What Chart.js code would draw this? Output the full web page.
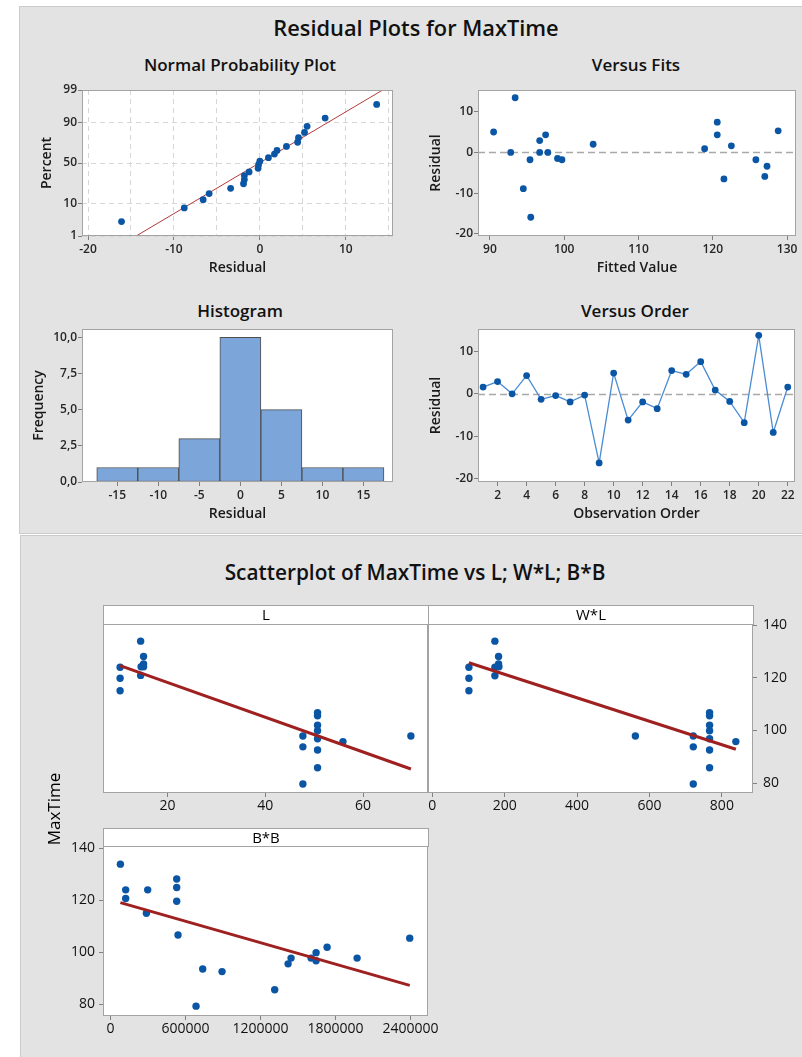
<!DOCTYPE html>
<html>
<head>
<meta charset="utf-8">
<script src="https://cdn.jsdelivr.net/npm/chart.js@4.4.1/dist/chart.umd.min.js"></script>
<style>
  body { margin: 0; width: 802px; height: 1057px; overflow: hidden; background: #fff; position: relative; font-family: 'Open Sans', sans-serif; }
  .panel { position: absolute; background: #e3e3e3; box-sizing: border-box; border: 1px solid #cbcbcb; }
  .t { position: absolute; width: 500px; text-align: center; white-space: nowrap; color: #111; font-weight: 600; }
  .strip { position: absolute; box-sizing: border-box; background: #fff; border: 1px solid #a3a3a3; text-align: center; font-size: 15px; color: #000; }
  canvas { position: absolute; }
</style>
</head>
<body>
<div class="panel" style="left:19px;top:6px;width:800px;height:528px"></div>
<div class="panel" style="left:20px;top:535px;width:800px;height:540px"></div>

<div class="t" style="left:166px;top:13px;font-size:21.8px;line-height:30px">Residual Plots for MaxTime</div>
<div class="t" style="left:-10px;top:53px;font-size:17px;line-height:24px">Normal Probability Plot</div>
<div class="t" style="left:386px;top:53px;font-size:17px;line-height:24px">Versus Fits</div>
<div class="t" style="left:-10px;top:299px;font-size:17px;line-height:24px">Histogram</div>
<div class="t" style="left:385px;top:299px;font-size:17px;line-height:24px">Versus Order</div>
<div class="t" style="left:165px;top:557px;font-size:20.8px;line-height:30px">Scatterplot of MaxTime vs L; W*L; B*B</div>

<canvas id="prob" width="380" height="205" style="left:20px;top:80px"></canvas>
<canvas id="fits" width="392" height="205" style="left:410px;top:80px"></canvas>
<canvas id="hist" width="380" height="205" style="left:20px;top:320px"></canvas>
<canvas id="order" width="392" height="205" style="left:410px;top:320px"></canvas>
<canvas id="panelL" width="345" height="220" style="left:90px;top:600px"></canvas>
<canvas id="panelWL" width="382" height="220" style="left:420px;top:600px"></canvas>
<canvas id="panelBB" width="420" height="237" style="left:20px;top:820px"></canvas>

<div class="strip" style="left:103px;top:605px;width:326px;height:20px;line-height:17px">L</div>
<div class="strip" style="left:428px;top:605px;width:326px;height:20px;line-height:17px">W*L</div>
<div class="strip" style="left:103px;top:828px;width:326px;height:19px;line-height:16px">B*B</div>
<div style="position:absolute;left:4px;top:797px;width:100px;height:24px;line-height:24px;text-align:center;font-size:17px;color:#000;transform:rotate(-90deg)">MaxTime</div>

<script>
// normal probability plot (residuals sorted, percent = plotting position)
const pctTicks = [1, 10, 50, 90, 99];
const probResidual = [-16.1, -8.8, -6.6, -5.9, -3.4, -1.9, -1.8, -1.8, -1.25, -0.2, -0.15, 0.0,
    1.0, 1.7, 2.0, 3.1, 4.4, 4.5, 5.2, 5.5, 7.6, 13.6];
const probPercent = [3.1, 7.6, 12.1, 16.5, 21.0, 25.4, 29.9, 34.4, 38.8, 43.3, 47.8, 52.2,
    56.7, 61.2, 65.6, 70.1, 74.6, 79.0, 83.5, 87.9, 92.4, 96.9];
const probLineX = [-14.4, 14.3];
const probLinePct = [1, 99];

// versus fits
const fitValue = [90.5, 92.8, 93.4, 94.5, 95.4, 95.5, 96.7, 96.7, 97.5, 97.8, 99.1, 99.7,
    103.9, 118.9, 120.6, 120.6, 121.5, 122.5, 125.8, 127.0, 127.3, 128.8];
const fitResidual = [5.0, 0.0, 13.4, -8.9, -1.8, -15.9, 2.9, 0.0, 4.3, 0.0, -1.5, -1.8,
    2.0, 0.9, 7.4, 4.3, -6.5, 1.6, -1.8, -5.9, -3.4, 5.3];

// histogram
const histCenter = [-15, -10, -5, 0, 5, 10, 15];
const histCount = [1, 1, 3, 10, 5, 1, 1];

// versus order
const orderIndex = [1, 2, 3, 4, 5, 6, 7, 8, 9, 10, 11, 12, 13, 14, 15, 16, 17, 18, 19, 20, 21, 22];
const orderResidual = [1.6, 2.9, 0.0, 4.3, -1.3, -0.4, -1.9, -0.3, -16.3, 4.9, -6.2, -1.9,
    -3.5, 5.5, 4.6, 7.6, 0.9, -1.8, -6.8, 13.8, -9.1, 1.6];

// scatterplot panels
const lX = [10.3, 10.3, 10.3, 14.5, 15.1, 15.1, 14.6, 15.1, 14.5, 47.7, 47.7, 47.7,
    50.7, 50.7, 50.7, 50.7, 50.7, 50.7, 50.7, 55.9, 69.8];
const lY = [124.0, 119.8, 115.1, 133.9, 128.1, 125.2, 124.2, 124.2, 120.9, 97.9, 93.8, 79.7,
    106.8, 105.6, 102.0, 99.9, 96.9, 92.6, 85.9, 95.8, 97.9];
const lFitX = [10.3, 69.8];
const lFitY = [124.6, 85.4];

const wlX = [101, 101, 101, 172.8, 172.8, 172.8, 183, 183, 184, 561, 721, 721, 721,
    766, 766, 766, 766, 766, 766, 766, 838.6];
const wlY = [124.0, 119.8, 115.1, 133.9, 124.0, 120.8, 128.1, 125.2, 124.2, 97.9, 97.9, 93.8, 79.7,
    106.8, 105.6, 102.0, 99.9, 96.9, 92.6, 85.9, 95.8];
const wlFitX = [101, 838.6];
const wlFitY = [125.7, 92.9];

const bbX = [80000, 122400, 122400, 298400, 288000, 530400, 530400, 530400, 541000, 738400, 893000,
    685000, 1314000, 1421000, 1445000, 1605000, 1645000, 1645000, 1733000, 1973000, 2394000];
const bbY = [133.9, 124.0, 120.7, 124.0, 115.0, 128.2, 124.9, 119.6, 106.6, 93.5, 92.5,
    79.2, 85.5, 95.5, 97.7, 97.7, 99.8, 96.7, 101.9, 97.7, 105.4];
const bbFitX = [80000, 2394000];
const bbFitY = [119.1, 87.2];

const yTicksTime = [80, 100, 120, 140];

const BLUE = '#0b56a4';
const RED = '#9f2020';
const FRAME = '#a3a3a3';

Chart.defaults.font.family = "'Open Sans', sans-serif";

// inverse normal cdf (Acklam) -> for the probability axis
function normInv(p) {
    const a = [-3.969683028665376e+01, 2.209460984245205e+02, -2.759285104469687e+02, 1.383577518672690e+02, -3.066479806614716e+01, 2.506628277459239e+00];
    const b = [-5.447609879822406e+01, 1.615858368580409e+02, -1.556989798598866e+02, 6.680131188771972e+01, -1.328068155288572e+01];
    const c = [-7.784894002430293e-03, -3.223964580411365e-01, -2.400758277161838e+00, -2.549732539343734e+00, 4.374664141464968e+00, 2.938163982698783e+00];
    const d = [7.784695709041462e-03, 3.224671290700398e-01, 2.445134137142996e+00, 3.754408661907416e+00];
    const pl = 0.02425;
    let q, r;
    if (p < pl) {
        q = Math.sqrt(-2 * Math.log(p));
        return (((((c[0] * q + c[1]) * q + c[2]) * q + c[3]) * q + c[4]) * q + c[5]) / ((((d[0] * q + d[1]) * q + d[2]) * q + d[3]) * q + 1);
    }
    if (p > 1 - pl) {
        q = Math.sqrt(-2 * Math.log(1 - p));
        return -(((((c[0] * q + c[1]) * q + c[2]) * q + c[3]) * q + c[4]) * q + c[5]) / ((((d[0] * q + d[1]) * q + d[2]) * q + d[3]) * q + 1);
    }
    q = p - 0.5; r = q * q;
    return (((((a[0] * r + a[1]) * r + a[2]) * r + a[3]) * r + a[4]) * r + a[5]) * q / (((((b[0] * r + b[1]) * r + b[2]) * r + b[3]) * r + b[4]) * r + 1);
}
const z = pct => normInv(pct / 100);

// white plot area + grey frame
const framePlugin = {
    id: 'frame',
    beforeDraw(chart) {
        const a = chart.chartArea, ctx = chart.ctx;
        ctx.save();
        ctx.fillStyle = '#fff';
        ctx.fillRect(a.left, a.top, a.right - a.left, a.bottom - a.top);
        ctx.restore();
    },
    afterDraw(chart) {
        const a = chart.chartArea, ctx = chart.ctx;
        ctx.save();
        ctx.strokeStyle = FRAME;
        ctx.lineWidth = 1;
        ctx.strokeRect(Math.round(a.left) + 0.5, Math.round(a.top) + 0.5, Math.round(a.right - a.left) - 1, Math.round(a.bottom - a.top) - 1);
        ctx.restore();
    }
};

// dashed reference line at residual = 0
const zeroPlugin = {
    id: 'zeroLine',
    beforeDatasetsDraw(chart) {
        const a = chart.chartArea, ctx = chart.ctx;
        const y = Math.round(chart.scales.y.getPixelForValue(0)) + 0.5;
        ctx.save();
        ctx.strokeStyle = '#a9a9a9';
        ctx.lineWidth = 1.3;
        ctx.setLineDash([7, 4]);
        ctx.beginPath();
        ctx.moveTo(a.left, y);
        ctx.lineTo(a.right, y);
        ctx.stroke();
        ctx.restore();
    }
};

const topTick = { size: 12, weight: '600' };
const topTitle = { size: 14, weight: '600' };
const lowTick = { size: 14, weight: '400' };

function axis(o) {
    const horiz = o.pos === 'bottom';
    return {
        type: 'linear',
        position: o.pos,
        min: o.min,
        max: o.max,
        offset: false,
        display: true,
        afterBuildTicks: s => { s.ticks = o.ticks.map(v => ({ value: v })); },
        afterFit: s => {
            if (horiz) { s.height = o.size; s.paddingLeft = 0; s.paddingRight = 0; }
            else { s.width = o.size; s.paddingTop = 0; s.paddingBottom = 0; }
        },
        grid: {
            offset: false,
            drawOnChartArea: !!o.grid,
            drawTicks: o.drawTicks !== false,
            color: '#d6d6d6',
            tickLength: 4,
            tickColor: o.tickColor || '#808080',
            tickBorderDash: []
        },
        border: { display: false, dash: o.grid ? [5, 4] : [] },
        ticks: {
            display: o.labels !== false,
            color: o.color || '#262626',
            font: o.font || topTick,
            padding: o.pad !== undefined ? o.pad : 2,
            maxRotation: 0,
            autoSkip: false,
            callback: o.cb || (v => String(v))
        },
        title: o.title ? {
            display: true, text: o.title, color: '#1a1a1a', font: topTitle,
            padding: horiz ? { top: 0, bottom: o.tpad } : { top: o.tpad, bottom: 0 }
        } : { display: false }
    };
}

function baseOptions(pad, scales) {
    return {
        responsive: false,
        devicePixelRatio: 1,
        animation: false,
        events: [],
        layout: { padding: pad },
        plugins: { legend: { display: false }, tooltip: { enabled: false } },
        scales: scales
    };
}

const pts = (xs, ys) => xs.map((x, i) => ({ x: x, y: ys[i] }));
const dots = (data, r) => ({ data: data, pointRadius: r, pointBackgroundColor: BLUE, pointBorderWidth: 0, showLine: false });

// 1. Normal probability plot
new Chart(document.getElementById('prob'), {
    type: 'scatter',
    data: {
        datasets: [
            dots(probResidual.map((x, i) => ({ x: x, y: z(probPercent[i]) })), 3.4),
            { data: probLineX.map((x, i) => ({ x: x, y: z(probLinePct[i]) })), showLine: true,
              borderColor: '#b33a3a', borderWidth: 1, pointRadius: 0 }
        ]
    },
    options: baseOptions({ top: 10, right: 7, left: 0, bottom: 0 }, {
        x: axis({ pos: 'bottom', min: -20.7, max: 15.5, ticks: [-20, -15, -10, -5, 0, 5, 10, 15], size: 49,
                  grid: true, tpad: 8.6, title: 'Residual',
                  tickColor: c => (c.tick && c.tick.value % 10 === 0) ? '#808080' : 'rgba(0,0,0,0)',
                  cb: v => (v % 10 === 0 ? String(v) : '') }),
        y: axis({ pos: 'left', min: z(1), max: z(99), ticks: pctTicks.map(z), size: 62, grid: true,
                  tpad: 18.6, title: 'Percent', pad: 1, cb: (v, i) => String(pctTicks[i]) })
    }),
    plugins: [framePlugin]
});

// 2. Versus fits
new Chart(document.getElementById('fits'), {
    type: 'scatter',
    data: { datasets: [dots(pts(fitValue, fitResidual), 3.4)] },
    options: baseOptions({ top: 10, right: 6, left: 0, bottom: 0 }, {
        x: axis({ pos: 'bottom', min: 88.4, max: 131.2, ticks: [90, 100, 110, 120, 130], size: 49,
                  tpad: 8.6, title: 'Fitted Value' }),
        y: axis({ pos: 'left', min: -20.5, max: 15.3, ticks: [-20, -10, 0, 10], size: 68,
                  tpad: 17.6, title: 'Residual', pad: 1 })
    }),
    plugins: [framePlugin, zeroPlugin]
});

// 3. Histogram
new Chart(document.getElementById('hist'), {
    type: 'bar',
    data: {
        datasets: [{
            data: pts(histCenter, histCount),
            backgroundColor: '#7ca6da',
            borderColor: '#4e4e4e',
            borderWidth: 1,
            borderSkipped: false,
            barPercentage: 1,
            categoryPercentage: 1
        }]
    },
    options: baseOptions({ top: 9, right: 7, left: 0, bottom: 0 }, {
        x: axis({ pos: 'bottom', min: -19.3, max: 18.6, ticks: [-15, -10, -5, 0, 5, 10, 15], size: 43,
                  tpad: 2.6, title: 'Residual' }),
        y: axis({ pos: 'left', min: 0, max: 10.58, ticks: [0, 2.5, 5, 7.5, 10], size: 62,
                  tpad: 10.6, title: 'Frequency', pad: 1,
                  cb: v => v.toFixed(1).replace('.', ',') })
    }),
    plugins: [framePlugin]
});

// 4. Versus order
new Chart(document.getElementById('order'), {
    type: 'scatter',
    data: {
        datasets: [{
            data: pts(orderIndex, orderResidual), showLine: true,
            borderColor: '#4a8cd3', borderWidth: 1.3,
            pointRadius: 3.4, pointBackgroundColor: BLUE, pointBorderWidth: 0
        }]
    },
    options: baseOptions({ top: 9, right: 7, left: 0, bottom: 0 }, {
        x: axis({ pos: 'bottom', min: 0.65, max: 22.5, ticks: [2, 4, 6, 8, 10, 12, 14, 16, 18, 20, 22], size: 43,
                  tpad: 2.6, title: 'Observation Order' }),
        y: axis({ pos: 'left', min: -20.8, max: 15.3, ticks: [-20, -10, 0, 10], size: 68,
                  tpad: 17.6, title: 'Residual', pad: 1 })
    }),
    plugins: [framePlugin, zeroPlugin]
});

// scatter panels
function fitLine(xs, ys) {
    return { data: pts(xs, ys), showLine: true, borderColor: RED, borderWidth: 3, pointRadius: 0 };
}

new Chart(document.getElementById('panelL'), {
    type: 'scatter',
    data: { datasets: [fitLine(lFitX, lFitY), dots(pts(lX, lY), 3.7)] },
    options: baseOptions({ top: 24, right: 7, left: 0, bottom: 0 }, {
        x: axis({ pos: 'bottom', min: 6.8, max: 73.3, ticks: [20, 40, 60], size: 27, font: lowTick, pad: 1, color: '#111' }),
        y: axis({ pos: 'left', min: 76.3, max: 140.4, ticks: yTicksTime, size: 13, labels: false, drawTicks: false })
    }),
    plugins: [framePlugin]
});

new Chart(document.getElementById('panelWL'), {
    type: 'scatter',
    data: { datasets: [fitLine(wlFitX, wlFitY), dots(pts(wlX, wlY), 3.7)] },
    options: baseOptions({ top: 24, right: 0, left: 8, bottom: 0 }, {
        x: axis({ pos: 'bottom', min: -12, max: 886, ticks: [0, 200, 400, 600, 800], size: 27, font: lowTick, pad: 1, color: '#111' }),
        y: axis({ pos: 'right', min: 76.3, max: 140.4, ticks: yTicksTime, size: 49, font: lowTick, pad: 6, color: '#111' })
    }),
    plugins: [framePlugin]
});

new Chart(document.getElementById('panelBB'), {
    type: 'scatter',
    data: { datasets: [fitLine(bbFitX, bbFitY), dots(pts(bbX, bbY), 3.7)] },
    options: baseOptions({ top: 26, right: 12, left: 0, bottom: 0 }, {
        x: axis({ pos: 'bottom', min: -59000, max: 2540000, ticks: [0, 600000, 1200000, 1800000, 2400000],
                  size: 41, font: lowTick, pad: 1, color: '#111' }),
        y: axis({ pos: 'left', min: 75.4, max: 140.9, ticks: yTicksTime, size: 83, font: lowTick, pad: 4, color: '#111' })
    }),
    plugins: [framePlugin]
});
</script>
</body>
</html>
